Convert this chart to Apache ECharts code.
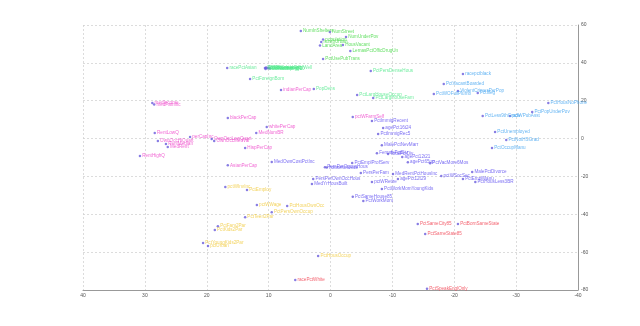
<!DOCTYPE html>
<html>
<head>
<meta charset="utf-8">
<script src="https://cdn.jsdelivr.net/npm/echarts@6/dist/echarts.min.js"></script>
<style>
  html, body { margin: 0; padding: 0; background: #fff; }
  #chart { width: 640px; height: 326px; }
</style>
</head>
<body>
<div id="chart"></div>
<script>
// Feature embedding: each feature name is placed at its 2-D coordinate.
// Count / size features
const countNames = ['NumInShelters', 'NumStreet', 'NumUnderPov', 'population', 'numbUrban', 'LandArea', 'HousVacant', 'LemasPctOfficDrugUn', 'PctUsePubTrans'];
const countX = [4.8, 0.1, -2.5, 1.2, 1.5, 1.7, -2.0, -3.2, 1.2];
const countY = [56.8, 56.3, 53.7, 52.4, 51.0, 49.2, 49.4, 46.3, 42.0];

// Immigration / density features
const immigNames = ['PctPersDenseHous', 'PctLargHouseOccup', 'PctLargHouseFam', 'PopDens', 'PctForeignBorn', 'racePctAsian', 'PctNotSpeakEnglWell', 'PctRecentImmig', 'PctRecImmig5', 'PctRecImmig8', 'PctRecImmig10', 'racePctHisp'];
const immigX = [-6.5, -4.3, -6.9, 2.7, 13.0, 16.7, 10.6, 10.4, 10.2, 10.0, 9.8, 10.5];
const immigY = [35.7, 23.0, 21.4, 26.2, 31.5, 37.3, 37.3, 37.6, 37.1, 37.4, 37.0, 36.8];

// Poverty features
const povNames = ['racepctblack', 'PctVacantBoarded', 'ViolentCrimesPerPop', 'PctIlleg', 'PctWOFullPlumb', 'PctHousNoPhone', 'PctPopUnderPov', 'PctLess9thGrade', 'pctWPubAsst', 'PctUnemployed', 'PctNotHSGrad', 'PctOccupManu'];
const povX = [-21.4, -18.3, -20.6, -23.8, -16.7, -35.2, -32.6, -24.6, -29.0, -26.6, -28.4, -26.1];
const povY = [34.1, 28.8, 25.1, 24.1, 23.6, 18.8, 14.1, 11.9, 11.9, 3.5, -0.7, -5.0];

// Income features
const incomeNames = ['medIncome', 'medFamInc', 'blackPerCap', 'whitePerCap', 'MedNumBR', 'RentLowQ', 'perCapInc', 'OwnOccLowQuart', 'OwnOccMedVal', 'OwnOccHiQuart', 'RentMedian', 'MedRent', 'RentHighQ', 'HispPerCap', 'AsianPerCap', 'indianPerCap', 'pctWFarmSelf'];
const incomeX = [28.8, 28.5, 16.6, 10.3, 12.0, 28.4, 22.7, 19.2, 18.8, 27.9, 26.6, 26.3, 30.8, 13.8, 16.6, 8.0, -3.6];
const incomeY = [18.8, 18.0, 10.9, 6.1, 3.0, 3.0, 0.8, -0.2, -1.3, -1.3, -2.9, -4.5, -9.2, -5.0, -14.1, 25.7, 11.4];

// Household / age features
const houseNames = ['PctImmigRecent', 'agePct16t24', 'PctImmigRec5', 'MalePctNevMarr', 'FemalePctDiv', 'TotalPctDiv', 'agePct12t21', 'agePct65up', 'PctVacMore6Mos', 'MedOwnCostPctInc', 'PctEmplProfServ', 'PersPerOccupHous', 'householdsize', 'PersPerFam', 'MedRentPctHousInc', 'agePct12t29', 'pctWRetire', 'PersPerOwnOccHous', 'MedYrHousBuilt', 'PctWorkMomYoungKids', 'PctSameHouse85', 'PctWorkMom', 'MalePctDivorce', 'pctWSocSec', 'PctEmplManu', 'PctHousLess3BR'];
const houseX = [-6.7, -8.5, -7.7, -8.3, -7.5, -9.3, -11.6, -12.5, -16.1, 9.5, -3.5, 0.9, 0.6, -4.9, -10.1, -10.9, -6.7, 2.8, 3.0, -8.3, -3.6, -5.3, -22.9, -17.9, -21.4, -23.4];
const houseY = [9.3, 5.6, 2.4, -3.5, -7.7, -8.2, -9.8, -12.5, -13.0, -12.4, -12.9, -15.1, -15.3, -18.2, -18.7, -21.4, -23.0, -21.4, -24.0, -26.6, -30.8, -33.0, -17.6, -19.8, -21.4, -23.0];

// Family / ownership features
const familyNames = ['pctWInvInc', 'PctEmploy', 'pctWWage', 'PctHousOwnOcc', 'PctPersOwnOccup', 'PctTeen2Par', 'PctFam2Par', 'PctKids2Par', 'PctYoungKids2Par', 'pctUrban', 'PctHousOccup'];
const familyX = [17.0, 13.5, 11.9, 7.0, 9.5, 13.8, 18.2, 18.7, 20.6, 19.8, 2.0];
const familyY = [-25.6, -27.2, -35.1, -35.6, -38.9, -41.5, -46.3, -48.3, -55.2, -56.8, -62.0];

// Stability features
const stableNames = ['PctSameCity85', 'PctBornSameState', 'PctSameState85', 'racePctWhite', 'PctSpeakEnglOnly'];
const stableX = [-14.1, -20.6, -15.3, 5.7, -15.6];
const stableY = [-45.1, -45.1, -50.4, -74.7, -79.4];

// Axis ticks
const xTicks = [40, 30, 20, 10, 0, -10, -20, -30, -40];
const yTicks = [60, 40, 20, 0, -20, -40, -60, -80];

const groups = [
  { names: countNames, xs: countX, ys: countY, color: '#3fd83f' },
  { names: immigNames, xs: immigX, ys: immigY, color: '#4fe88a' },
  { names: povNames, xs: povX, ys: povY, color: '#3ea3f0' },
  { names: incomeNames, xs: incomeX, ys: incomeY, color: '#ee3fc8' },
  { names: houseNames, xs: houseX, ys: houseY, color: '#5a4af0' },
  { names: familyNames, xs: familyX, ys: familyY, color: '#f0c93a' },
  { names: stableNames, xs: stableX, ys: stableY, color: '#f03a4a' }
];

const series = groups.map(g => ({
  type: 'scatter',
  symbol: 'circle',
  symbolSize: 2.5,
  itemStyle: { color: '#6a5cdc' },
  label: {
    show: true,
    position: 'right',
    distance: 1,
    color: g.color,
    fontSize: 4.6,
    fontFamily: 'Liberation Sans, Arial, sans-serif',
    formatter: p => p.data[2]
  },
  labelLayout: { hideOverlap: false },
  data: g.names.map((n, i) => [g.xs[i], g.ys[i], n])
}));

const gridLine = { show: true, lineStyle: { color: '#d4d4d4', type: [2, 2], width: 0.8 } };
const axisFont = { fontSize: 5, color: '#555', margin: 3, fontFamily: 'Liberation Sans, Arial, sans-serif' };

const chart = echarts.init(document.getElementById('chart'), null, { renderer: 'canvas' });
chart.setOption({
  animation: false,
  grid: { left: 83, right: 62, top: 25, bottom: 36 },
  xAxis: {
    type: 'value',
    inverse: true,
    min: xTicks[xTicks.length - 1],
    max: xTicks[0],
    interval: 10,
    axisLine: { show: true, onZero: false, lineStyle: { color: '#999', width: 1 } },
    axisTick: { show: false },
    axisLabel: axisFont,
    splitLine: gridLine
  },
  yAxis: {
    type: 'value',
    position: 'right',
    min: yTicks[yTicks.length - 1],
    max: yTicks[0],
    interval: 20,
    axisLine: { show: true, onZero: false, lineStyle: { color: '#999', width: 1 } },
    axisTick: { show: false },
    axisLabel: axisFont,
    splitLine: gridLine
  },
  series: series
});
</script>
</body>
</html>
